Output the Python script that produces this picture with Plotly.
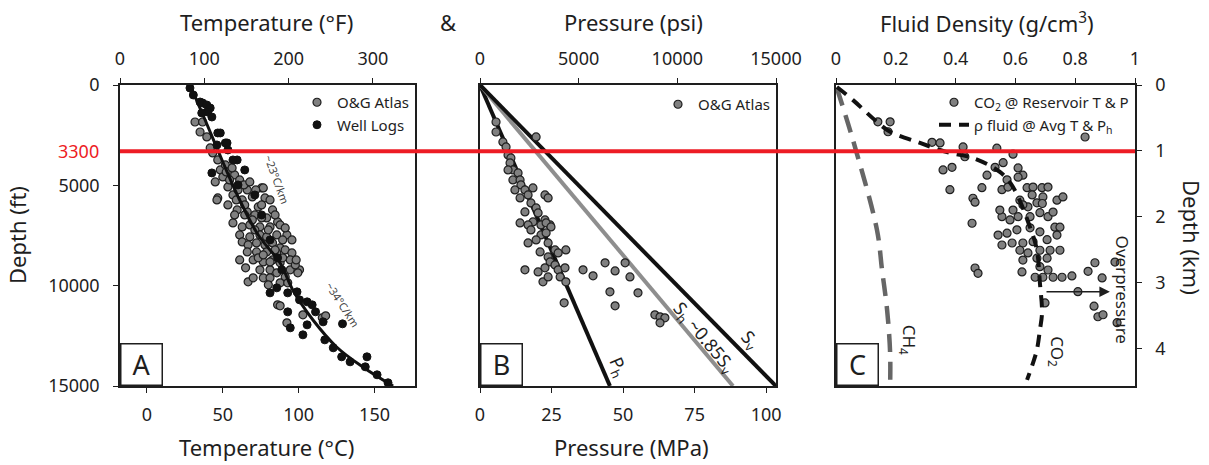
import plotly.graph_objects as go

W, H = 1209, 465
FONT = "Noto Sans"
INK = "#1e1e1e"
GREY_PT = "#808080"
RED = "#ed1c24"

# ---------------- Panel A : temperature (deg F) vs depth (ft)
atlas_a = [(89, 1843), (98, 1843), (95, 2341), (103, 2590), (110, 3386), (116, 3735), (107, 3137),
           (119, 4233), (122, 4582), (113, 4831), (116, 5627), (136, 4482), (128, 5080), (142, 4731),
           (151, 5229), (168, 5129), (134, 5478), (145, 5727), (157, 5578), (164, 6076), (172, 5627),
           (139, 6225), (151, 6325), (160, 6474), (181, 6225), (174, 6623), (134, 6872), (145, 7072),
           (187, 6823), (178, 7072), (166, 7072), (154, 6972), (190, 6972), (142, 7470), (154, 7570),
           (166, 7470), (174, 7570), (186, 7470), (198, 7470), (145, 7819), (152, 7968), (162, 7868),
           (172, 7968), (181, 7868), (190, 8117), (151, 8317), (162, 8317), (174, 8317), (186, 8366),
           (196, 8217), (204, 8366), (158, 8715), (170, 8815), (181, 8715), (190, 8864), (166, 9213),
           (178, 9213), (186, 9362), (202, 9213), (213, 9213), (211, 9362), (152, 9811), (158, 9611),
           (170, 9611), (178, 9611), (196, 9562), (187, 10956), (190, 11006), (198, 11852), (217, 11454),
           (240, 11603), (244, 11504), (115, 5727), (170, 5129), (125, 3984), (130, 4731), (140, 5229),
           (148, 5976), (157, 6723), (128, 5976), (160, 7221), (176, 7221), (184, 6474), (168, 6623),
           (193, 7719), (202, 8715), (136, 6474), (164, 8615), (178, 8815), (208, 8964), (126, 4333),
           (133, 4133), (147, 4980), (154, 4831), (138, 5727), (161, 5229), (168, 5976), (148, 6474),
           (178, 5727), (196, 7121), (204, 7719), (184, 8217), (170, 8466), (193, 8615), (209, 8715),
           (176, 9960), (190, 9860), (149, 9113), (142, 8715), (199, 9860)]

well_logs = [(83, 149), (87, 498), (95, 847), (98, 896), (103, 996), (107, 1145), (104, 1345),
             (97, 1394), (109, 1594), (116, 2390), (119, 2390), (127, 2888), (125, 2888), (139, 3735),
             (134, 3735), (109, 4382), (115, 2988), (128, 3237), (148, 4233), (140, 4980), (160, 5478),
             (168, 6474), (178, 7719), (187, 8615), (192, 9213), (178, 10358), (186, 10109), (199, 10358),
             (210, 10309), (199, 11305), (202, 12101), (222, 11952), (217, 12450), (222, 10807),
             (228, 10956), (241, 11803), (243, 12699), (253, 13097), (263, 13546), (273, 13795),
             (293, 13546), (264, 11902), (291, 14044), (305, 14442), (318, 14840), (232, 11305),
             (213, 10707)]

geotherm_F = [83, 101, 121, 142, 164, 190, 205, 229, 257, 288, 324]
geotherm_ft = [0, 1744, 3737, 5730, 7474, 8870, 10215, 11710, 13055, 14052, 15000]

# ---------------- Panel B : pressure (MPa) vs depth (ft)
atlas_b = [(5.6, 1843), (5.6, 2341), (8.0, 2839), (9.1, 3088), (19.6, 2590), (9.8, 3486), (10.8, 3635),
           (10.5, 3884), (11.5, 4233), (9.8, 4233), (13.3, 4382), (11.5, 4731), (14.0, 4731),
           (14.3, 4980), (12.2, 5229), (15.7, 5229), (18.5, 5129), (16.8, 5478), (14.0, 5627),
           (22.7, 5478), (23.8, 5627), (17.8, 5876), (19.6, 6125), (15.7, 6325), (20.3, 6374),
           (22.7, 6723), (18.5, 6823), (14.0, 6872), (21.3, 6972), (24.5, 6972), (16.8, 6972),
           (23.1, 6872), (24.8, 7072), (17.8, 7221), (21.3, 7470), (23.1, 7370), (16.8, 7868),
           (19.6, 7719), (23.8, 7868), (21.0, 8317), (26.2, 8217), (30.0, 8217), (23.8, 8566),
           (27.3, 8366), (24.5, 8815), (26.2, 8964), (27.3, 9213), (29.7, 9113), (28.0, 9562),
           (30.0, 9811), (15.7, 9213), (20.3, 9313), (22.7, 9113), (22.0, 9811), (23.8, 9562),
           (29.4, 10856), (36.0, 9213), (39.5, 9512), (43.7, 8864), (47.2, 9263), (50.7, 8864),
           (52.4, 9562), (45.4, 10309), (55.2, 10358), (47.2, 11006), (61.1, 11454), (62.9, 11554),
           (64.6, 11603), (62.9, 11852)]

line_ft = [0, 15000]
sv_mpa = [0, 103.4]
shmin_mpa = [0, 88.4]
ph_mpa = [0, 45.4]

# ---------------- Panel C : fluid density (g/cm3) vs depth (km)
co2_pts = [(0.140, 0.56), (0.181, 0.56), (0.174, 0.71), (0.321, 0.87), (0.348, 0.88), (0.425, 0.94),
           (0.538, 0.96), (0.431, 1.09), (0.592, 1.05), (0.833, 0.79), (0.358, 1.29), (0.388, 1.25),
           (0.381, 1.59), (0.458, 1.72), (0.465, 1.78), (0.455, 2.10), (0.488, 1.56), (0.505, 1.37),
           (0.532, 1.25), (0.559, 1.18), (0.572, 1.44), (0.555, 1.59), (0.575, 1.55), (0.609, 1.26),
           (0.625, 1.37), (0.609, 1.40), (0.639, 1.56), (0.659, 1.55), (0.689, 1.56), (0.709, 1.55),
           (0.692, 1.70), (0.739, 1.75), (0.759, 1.70), (0.656, 1.67), (0.672, 1.79), (0.615, 1.75),
           (0.642, 1.85), (0.592, 1.90), (0.555, 2.00), (0.582, 2.05), (0.609, 2.00), (0.649, 2.00),
           (0.682, 1.94), (0.709, 2.00), (0.732, 2.16), (0.749, 2.16), (0.548, 1.90), (0.625, 1.82),
           (0.690, 1.80), (0.726, 1.93), (0.542, 2.28), (0.572, 2.25), (0.605, 2.20), (0.649, 2.17),
           (0.682, 2.23), (0.555, 2.43), (0.589, 2.40), (0.625, 2.40), (0.659, 2.38), (0.706, 2.35),
           (0.739, 2.28), (0.615, 2.51), (0.642, 2.55), (0.682, 2.51), (0.716, 2.51), (0.749, 2.51),
           (0.625, 2.66), (0.672, 2.63), (0.706, 2.63), (0.682, 2.76), (0.666, 2.92), (0.692, 2.92),
           (0.622, 2.84), (0.709, 2.81), (0.726, 2.92), (0.756, 2.92), (0.789, 2.90), (0.465, 2.78),
           (0.475, 2.86), (0.699, 3.31), (0.809, 3.14), (0.843, 2.83), (0.866, 2.70), (0.890, 2.93),
           (0.863, 3.36), (0.876, 3.52), (0.893, 3.49), (0.933, 2.69), (0.940, 3.61)]

fluid_rho = [0.003, 0.057, 0.137, 0.181, 0.281, 0.371, 0.458, 0.548, 0.592, 0.649, 0.672, 0.682,
             0.689, 0.682, 0.672, 0.659, 0.639]
fluid_km = [0.03, 0.23, 0.56, 0.71, 0.88, 1.02, 1.11, 1.32, 1.55, 2.16, 2.51, 3.01, 3.46, 3.72,
            4.02, 4.22, 4.48]

ch4_rho = [0.003, 0.057, 0.137, 0.154, 0.171, 0.181, 0.181]
ch4_km = [0.05, 0.84, 2.20, 2.81, 3.42, 4.07, 4.57]


def xs(pts):
    return [p[0] for p in pts]


def ys(pts):
    return [p[1] for p in pts]


def dom_x(left, right):
    return [left / W, right / W]


Y_DOM = [1 - 386 / H, 1 - 85 / H]


def axis(**kw):
    base = dict(showline=True, linecolor=INK, linewidth=1.5, ticks="outside", ticklen=5,
                tickwidth=1.2, tickcolor=INK, showgrid=False, zeroline=False, automargin=False,
                tickmode="array", tickfont=dict(family=FONT, size=18, color=INK))
    base.update(kw)
    return base


dot_grey = dict(color=GREY_PT, size=8, line=dict(color=INK, width=1.2))
dot_black = dict(color="#111111", size=8, line=dict(color="#111111", width=1))

fig = go.Figure()

# panel A (data on the deg F axis)
fig.add_trace(go.Scatter(x=xs(atlas_a), y=ys(atlas_a), mode="markers", marker=dot_grey,
                         name="O&G Atlas", xaxis="x", yaxis="y", legend="legend"))
fig.add_trace(go.Scatter(x=geotherm_F, y=geotherm_ft, mode="lines", line=dict(color="#111", width=3),
                         xaxis="x", yaxis="y", showlegend=False, line_shape="spline"))
fig.add_trace(go.Scatter(x=xs(well_logs), y=ys(well_logs), mode="markers", marker=dot_black,
                         name="Well Logs", xaxis="x", yaxis="y", legend="legend"))

# panel B (data on the MPa axis)
fig.add_trace(go.Scatter(x=ph_mpa, y=line_ft, mode="lines", line=dict(color="#111", width=4),
                         xaxis="x3", yaxis="y2", showlegend=False))
fig.add_trace(go.Scatter(x=shmin_mpa, y=line_ft, mode="lines", line=dict(color="#8e8e8e", width=4),
                         xaxis="x3", yaxis="y2", showlegend=False))
fig.add_trace(go.Scatter(x=sv_mpa, y=line_ft, mode="lines", line=dict(color="#111", width=4),
                         xaxis="x3", yaxis="y2", showlegend=False))
fig.add_trace(go.Scatter(x=xs(atlas_b), y=ys(atlas_b), mode="markers", marker=dot_grey,
                         name="O&G Atlas", xaxis="x3", yaxis="y2", legend="legend2"))

# panel C
fig.add_trace(go.Scatter(x=ch4_rho, y=ch4_km, mode="lines", line=dict(color="#666", width=4.5, dash="18px,10px"),
                         xaxis="x5", yaxis="y3", showlegend=False, line_shape="spline"))
fig.add_trace(go.Scatter(x=xs(co2_pts), y=ys(co2_pts), mode="markers", marker=dot_grey,
                         name="CO<sub>2</sub> @ Reservoir T & P", xaxis="x5", yaxis="y3", legend="legend3"))
fig.add_trace(go.Scatter(x=fluid_rho, y=fluid_km, mode="lines", line=dict(color="#111", width=4, dash="12px,8px"),
                         name="ρ fluid @ Avg T & P<sub>h</sub>", xaxis="x5", yaxis="y3", legend="legend3",
                         line_shape="spline"))

# empty traces so the secondary (unit-conversion) axes get drawn
for xa, ya in [("x2", "y"), ("x4", "y2")]:
    fig.add_trace(go.Scatter(x=[], y=[], xaxis=xa, yaxis=ya, showlegend=False, hoverinfo="skip"))

legend_common = dict(xanchor="right", yanchor="top", bgcolor="rgba(0,0,0,0)", tracegroupgap=0,
                     itemwidth=30, font=dict(family=FONT, size=15, color=INK))

fig.update_layout(
    template="none",
    width=W, height=H, margin=dict(l=0, r=0, t=0, b=0, autoexpand=False),
    paper_bgcolor="white", plot_bgcolor="white",
    font=dict(family=FONT, color=INK),
    hovermode="closest",
    xaxis=axis(domain=dom_x(120, 415), anchor="y", side="top", range=[0, 350],
               tickvals=[0, 100, 200, 300], mirror=True, ticklabelstandoff=6),
    xaxis2=axis(overlaying="x", side="bottom", anchor="y", range=[-17.78, 176.67],
                tickvals=[0, 50, 100, 150], ticklabelstandoff=7),
    yaxis=axis(domain=Y_DOM, anchor="x", range=[15000, 0], tickvals=[0, 5000, 10000, 15000],
               ticktext=["0", "5000", "10000", "15000"], mirror=True, ticklabelstandoff=10),
    xaxis3=axis(domain=dom_x(480, 776), anchor="y2", side="bottom", range=[0, 103.42],
                tickvals=[0, 25, 50, 75, 100], mirror=True, ticklabelstandoff=7),
    xaxis4=axis(overlaying="x3", side="top", anchor="y2", range=[0, 15000],
                tickvals=[0, 5000, 10000, 15000], ticktext=["0", "5000", "10000", "15000"],
                ticklabelstandoff=6),
    yaxis2=axis(domain=Y_DOM, anchor="x3", range=[15000, 0], mirror=True, ticks="",
                showticklabels=False),
    xaxis5=axis(domain=dom_x(836, 1135), anchor="y3", side="top", range=[0, 1],
                tickvals=[0, 0.2, 0.4, 0.6, 0.8, 1], ticktext=["0", "0.2", "0.4", "0.6", "0.8", "1"],
                mirror=True, ticklabelstandoff=6),
    yaxis3=axis(domain=Y_DOM, anchor="x5", side="right", range=[4.572, 0], tickvals=[0, 1, 2, 3, 4],
                mirror=True, ticklabelstandoff=10),
    legend=dict(x=414 / W, y=1 - 86 / H, **legend_common),
    legend2=dict(x=775 / W, y=1 - 88 / H, **legend_common),
    legend3=dict(x=1134 / W, y=1 - 86 / H, **legend_common),
)

# red 3300 ft reference line across all panels
fig.add_shape(type="line", xref="paper", yref="y", x0=120 / W, x1=1135 / W, y0=3300, y1=3300,
              line=dict(color=RED, width=4), layer="above")

ann = []


def text(x, y, s, size=22, xref="paper", yref="paper", angle=0, color=INK, xanchor="center"):
    ann.append(dict(x=x, y=y, xref=xref, yref=yref, text=s, showarrow=False, textangle=angle,
                    xanchor=xanchor, yanchor="middle",
                    font=dict(family=FONT, size=size, color=color)))


# axis titles
text(266 / W, 1 - 22 / H, "Temperature (°F)")
text(448 / W, 1 - 22 / H, "&")
text(634 / W, 1 - 22 / H, "Pressure (psi)")
text(987 / W, 1 - 22 / H, "Fluid Density (g/cm<sup>3</sup>)")
text(266 / W, 1 - 447 / H, "Temperature (°C)")
text(631 / W, 1 - 447 / H, "Pressure (MPa)")
text(17 / W, 1 - 235 / H, "Depth (ft)", angle=-90)
text(1192 / W, 1 - 237 / H, "Depth (km)", angle=90)
text(101 / W, 3300, "3300", size=18, yref="y", color=RED, xanchor="right")

# panel letters
for letter, xa, ya in [("A", "x", "y"), ("B", "x3", "y2"), ("C", "x5", "y3")]:
    ann.append(dict(x=0, y=0, xref=xa + " domain", yref=ya + " domain", xanchor="left", yanchor="bottom",
                    text=letter, showarrow=False, width=40, height=40, bordercolor=INK, borderwidth=1.5,
                    borderpad=0, bgcolor="white", font=dict(family=FONT, size=27, color=INK)))

# in-plot labels
text(186, 4730, "~23°C/km", size=11, xref="x", yref="y", angle=70, color="#444")
text(264, 10956, "~34°C/km", size=11, xref="x", yref="y", angle=57, color="#444")
text(94.3, 12750, "S<sub>v</sub>", size=18, xref="x3", yref="y2", angle=48)
text(78.0, 12600, "S<sub>h</sub> ~0.85S<sub>v</sub>", size=18, xref="x3", yref="y2", angle=50)
text(48.2, 14090, "P<sub>h</sub>", size=18, xref="x3", yref="y2", angle=66)
text(0.241, 3.87, "CH<sub>4</sub>", size=17, xref="x5", yref="y3", angle=90)
text(0.739, 4.06, "CO<sub>2</sub>", size=17, xref="x5", yref="y3", angle=90)
text(0.957, 3.11, "Overpressure", size=17, xref="x5", yref="y3", angle=90)

# overpressure arrow
ann.append(dict(x=0.916, y=3.14, ax=0.699, ay=3.14, xref="x5", yref="y3", axref="x5", ayref="y3",
                showarrow=True, arrowhead=2, arrowsize=1.4, arrowwidth=1.5, arrowcolor=INK, text=""))

fig.update_layout(annotations=ann)

# the page's default body margin would push the fixed-size figure off the window
fig.write_html("out.html", config={"displayModeBar": False},
               post_script="document.body.style.margin = '0';")
